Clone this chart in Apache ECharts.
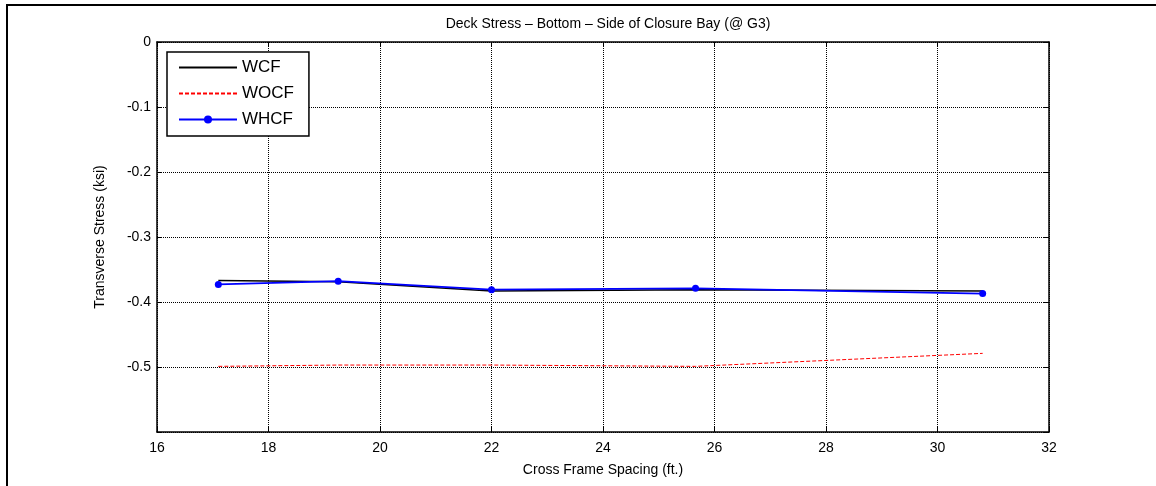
<!DOCTYPE html>
<html>
<head>
<meta charset="UTF-8">
<title>Deck Stress</title>
<script src="https://cdn.jsdelivr.net/npm/echarts@6/dist/echarts.min.js"></script>
<style>
html,body{margin:0;padding:0;background:#fff;}
#chart{width:1156px;height:486px;}
</style>
</head>
<body>
<div id="chart"></div>
<script type="text/javascript">
// cross frame spacing (ft.)
var spacing = [17.1, 19.25, 22.0, 25.66, 30.81];
// transverse stress (ksi)
var wcf  = [-0.367, -0.369, -0.383, -0.381, -0.383];
var wocf = [-0.499, -0.497, -0.497, -0.499, -0.479];
var whcf = [-0.373, -0.368, -0.381, -0.379, -0.387];
var names = ['WCF', 'WOCF', 'WHCF'];

function pairs(xs, ys){
	var out = [];
	for (var i = 0; i < xs.length; i++) out.push([xs[i], ys[i]]);
	return out;
}

var font = 'Liberation Sans, Arial, sans-serif';
var mychart = echarts.init(document.getElementById('chart'));

function xAx(pos, show){
	return {
		type:'value', position:pos, min:16, max:32, interval:2,
		name: show ? 'Cross Frame Spacing (ft.)' : '',
		nameLocation:'middle', nameGap:31,
		nameTextStyle:{color:'#000', fontSize:14, fontFamily:font},
		axisLine:{show:true, onZero:false, lineStyle:{color:'#000', width:1.5}},
		axisTick:{show:true, inside:true, length:5, lineStyle:{color:'#000', width:1}},
		axisLabel:{show:show, color:'#000', fontSize:14, fontFamily:font, margin:9},
		splitLine:{show:show, lineStyle:{color:'#000', type:[1,1], width:1}}
	};
}
function yAx(pos, show){
	return {
		type:'value', position:pos, min:-0.6, max:0, interval:0.1,
		name: show ? 'Transverse Stress (ksi)' : '',
		nameLocation:'middle', nameGap:50,
		nameTextStyle:{color:'#000', fontSize:14, fontFamily:font},
		axisLine:{show:true, onZero:false, lineStyle:{color:'#000', width:1.5}},
		axisTick:{show:true, inside:true, length:5, lineStyle:{color:'#000', width:1}},
		axisLabel:{show:show, color:'#000', fontSize:14, fontFamily:font, margin:6,
			formatter:function(v){
				if (v < -0.55) return '';
				return String(Math.round(v*10)/10);
			}},
		splitLine:{show:show, lineStyle:{color:'#000', type:[1,1], width:1}}
	};
}

var option = {
	backgroundColor:'#fff',
	animation:false,
	title:{
		text:'Deck Stress \u2013 Bottom \u2013 Side of Closure Bay (@ G3)',
		left:603, top:12, textAlign:'center',
		textStyle:{color:'#000', fontSize:14, fontWeight:'normal', fontFamily:font}
	},
	grid:{left:157, right:107, top:42, bottom:54},
	legend:{
		orient:'vertical', left:167, top:52,
		data:[
			{name:names[0], itemStyle:{opacity:0}},
			{name:names[1], itemStyle:{opacity:0}},
			{name:names[2]}
		],
		itemWidth:58, itemHeight:10, itemGap:9,
		padding:[7,15,8,11],
		borderColor:'#000', borderWidth:1.5, backgroundColor:'#fff',
		textStyle:{color:'#000', fontSize:17, fontFamily:font}
	},
	graphic:[{
		type:'rect', shape:{x:7, y:5, width:1200, height:600},
		style:{fill:null, stroke:'#000', lineWidth:2}, silent:true, z:-1
	}],
	xAxis:[xAx('bottom', true), xAx('top', false)],
	yAxis:[yAx('left', true), yAx('right', false)],
	series:[
		{name:'WCF', type:'line', data:pairs(spacing, wcf), symbol:'none',
			lineStyle:{color:'#000', width:1.5}, itemStyle:{color:'#000'}},
		{name:'WOCF', type:'line', data:pairs(spacing, wocf), symbol:'none',
			lineStyle:{color:'#ff0000', width:1, type:[4,2]}, itemStyle:{color:'#ff0000'}},
		{name:'WHCF', type:'line', data:pairs(spacing, whcf), symbol:'circle', symbolSize:7,
			lineStyle:{color:'#0000ff', width:1.8}, itemStyle:{color:'#0000ff'}}
	]
};
mychart.setOption(option);
</script>
</body>
</html>
